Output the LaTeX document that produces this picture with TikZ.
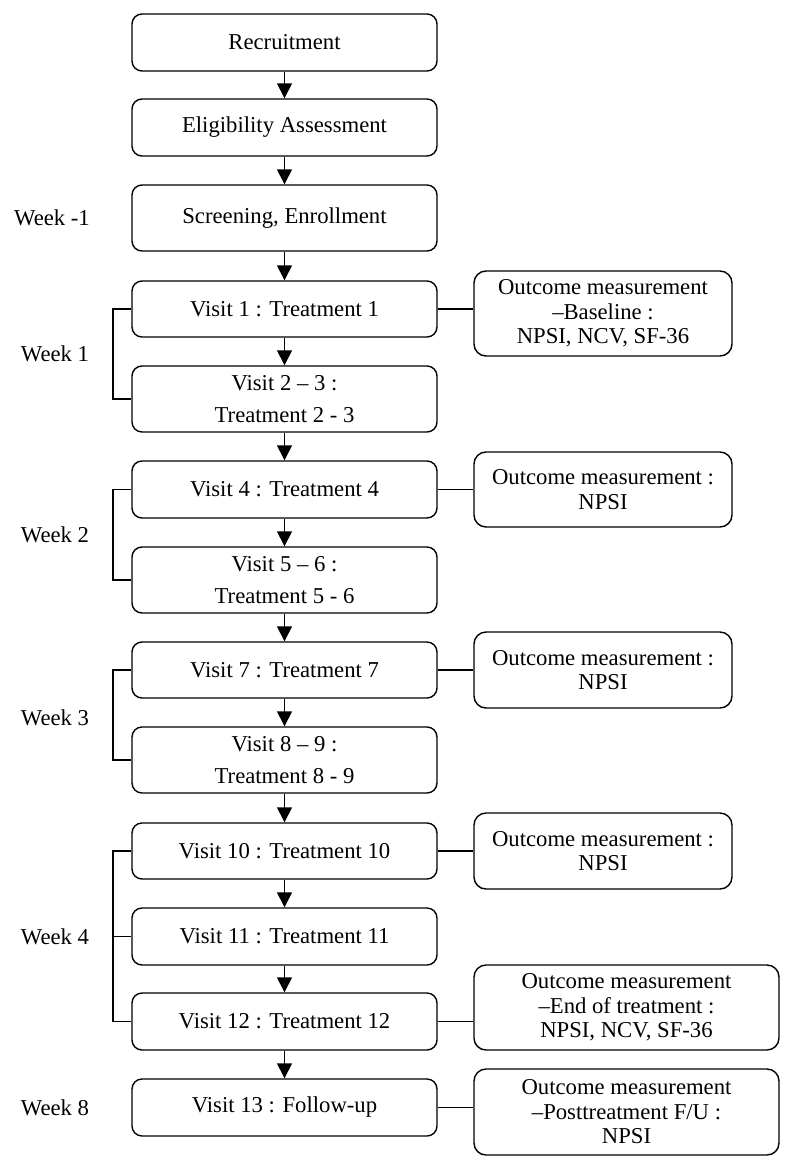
\documentclass[tikz,border=0pt]{standalone}
\usepackage{fontspec}
\setmainfont{Liberation Serif}
\usetikzlibrary{arrows.meta}
\begin{document}
\begin{tikzpicture}[x=1bp,y=-1bp,
  every node/.style={font=\fontsize{22.7bp}{24.5bp}\selectfont},
  mainbox/.style={draw,line width=1.4bp,rounded corners=10bp,minimum width=305bp,inner sep=2bp,align=center},
  outbox/.style={draw,line width=1.4bp,rounded corners=12bp,minimum width=258bp,inner sep=2bp,align=center},
  widebox/.style={outbox,minimum width=305bp},
  weeklabel/.style={inner sep=0bp},
  flow/.style={line width=1.4bp,-{Triangle[length=15bp,width=15bp]}},
  link/.style={line width=1.4bp}
]
\useasboundingbox (0,0) rectangle (793,1170);
\fill[white] (0,0) rectangle (793,1170);

% main column
\node[mainbox,minimum height=57bp] (rec)  at (284.5,42.5)  {Recruitment};
\node[mainbox,minimum height=57bp] (elig) at (284.5,127.5) {Eligibility Assessment};
\node[mainbox,minimum height=66bp] (scr)  at (284.5,218)   {Screening, Enrollment};
\node[mainbox,minimum height=56bp] (v1)   at (284.5,309)   {Visit 1 : Treatment 1};
\node[mainbox,minimum height=66bp] (v23)  at (284.5,399)   {Visit 2 -- 3 :\\[7.5bp]Treatment 2 - 3};
\node[mainbox,minimum height=57bp] (v4)   at (284.5,489.5) {Visit 4 : Treatment 4};
\node[mainbox,minimum height=66bp] (v56)  at (284.5,580)   {Visit 5 -- 6 :\\[7.5bp]Treatment 5 - 6};
\node[mainbox,minimum height=56bp] (v7)   at (284.5,670)   {Visit 7 : Treatment 7};
\node[mainbox,minimum height=66bp] (v89)  at (284.5,760)   {Visit 8 -- 9 :\\[7.5bp]Treatment 8 - 9};
\node[mainbox,minimum height=56bp] (v10)  at (284.5,851)   {Visit 10 : Treatment 10};
\node[mainbox,minimum height=57bp] (v11)  at (284.5,936.5) {Visit 11 : Treatment 11};
\node[mainbox,minimum height=57bp] (v12)  at (284.5,1021.5){Visit 12 : Treatment 12};
\node[mainbox,minimum height=57bp] (v13)  at (284.5,1107.5){Visit 13 : Follow-up};

% outcome boxes
\node[outbox,minimum height=85bp] (o1)  at (603,313.5) {Outcome measurement\\--Baseline :\\NPSI, NCV, SF-36};
\node[outbox,minimum height=75bp] (o4)  at (603,489.5) {Outcome measurement :\\NPSI};
\node[outbox,minimum height=76bp] (o7)  at (603,670)   {Outcome measurement :\\NPSI};
\node[outbox,minimum height=76bp] (o10) at (603,851)   {Outcome measurement :\\NPSI};
\node[widebox,minimum height=85bp] (o12) at (626.5,1007.5) {Outcome measurement\\--End of treatment :\\NPSI, NCV, SF-36};
\node[widebox,minimum height=86bp] (o13) at (626.5,1112)   {Outcome measurement\\--Posttreatment F/U :\\NPSI};

% week labels
\node[weeklabel] (w0) at (52,218)  {Week -1};
\node[weeklabel] (w1) at (55,354)  {Week 1};
\node[weeklabel] (w2) at (55,535)  {Week 2};
\node[weeklabel] (w3) at (55,718)  {Week 3};
\node[weeklabel] (w4) at (55,936.5){Week 4};
\node[weeklabel] (w8) at (55,1107.5){Week 8};

% flow arrows
\foreach \a/\b in {rec/elig,elig/scr,scr/v1,v1/v23,v23/v4,v4/v56,v56/v7,v7/v89,v89/v10,v10/v11,v11/v12,v12/v13}
  \draw[flow] (\a.south) -- (\b.north);

% links to outcome boxes
\foreach \a/\b in {v1/o1,v4/o4,v7/o7,v10/o10,v12/o12,v13/o13}
  \draw[link] (\a.east) -- (\a.east -| \b.west);

% week brackets
\coordinate (bx) at (113,0);
\draw[link] (v1.west) -- (v1.west -| bx) -- (v23.west -| bx) -- (v23.west);
\draw[link] (v4.west) -- (v4.west -| bx) -- (v56.west -| bx) -- (v56.west);
\draw[link] (v7.west) -- (v7.west -| bx) -- (v89.west -| bx) -- (v89.west);
\draw[link] (v10.west) -- (v10.west -| bx) -- (v12.west -| bx) -- (v12.west);
\draw[link] (v11.west) -- (v11.west -| bx);
\end{tikzpicture}
\end{document}
